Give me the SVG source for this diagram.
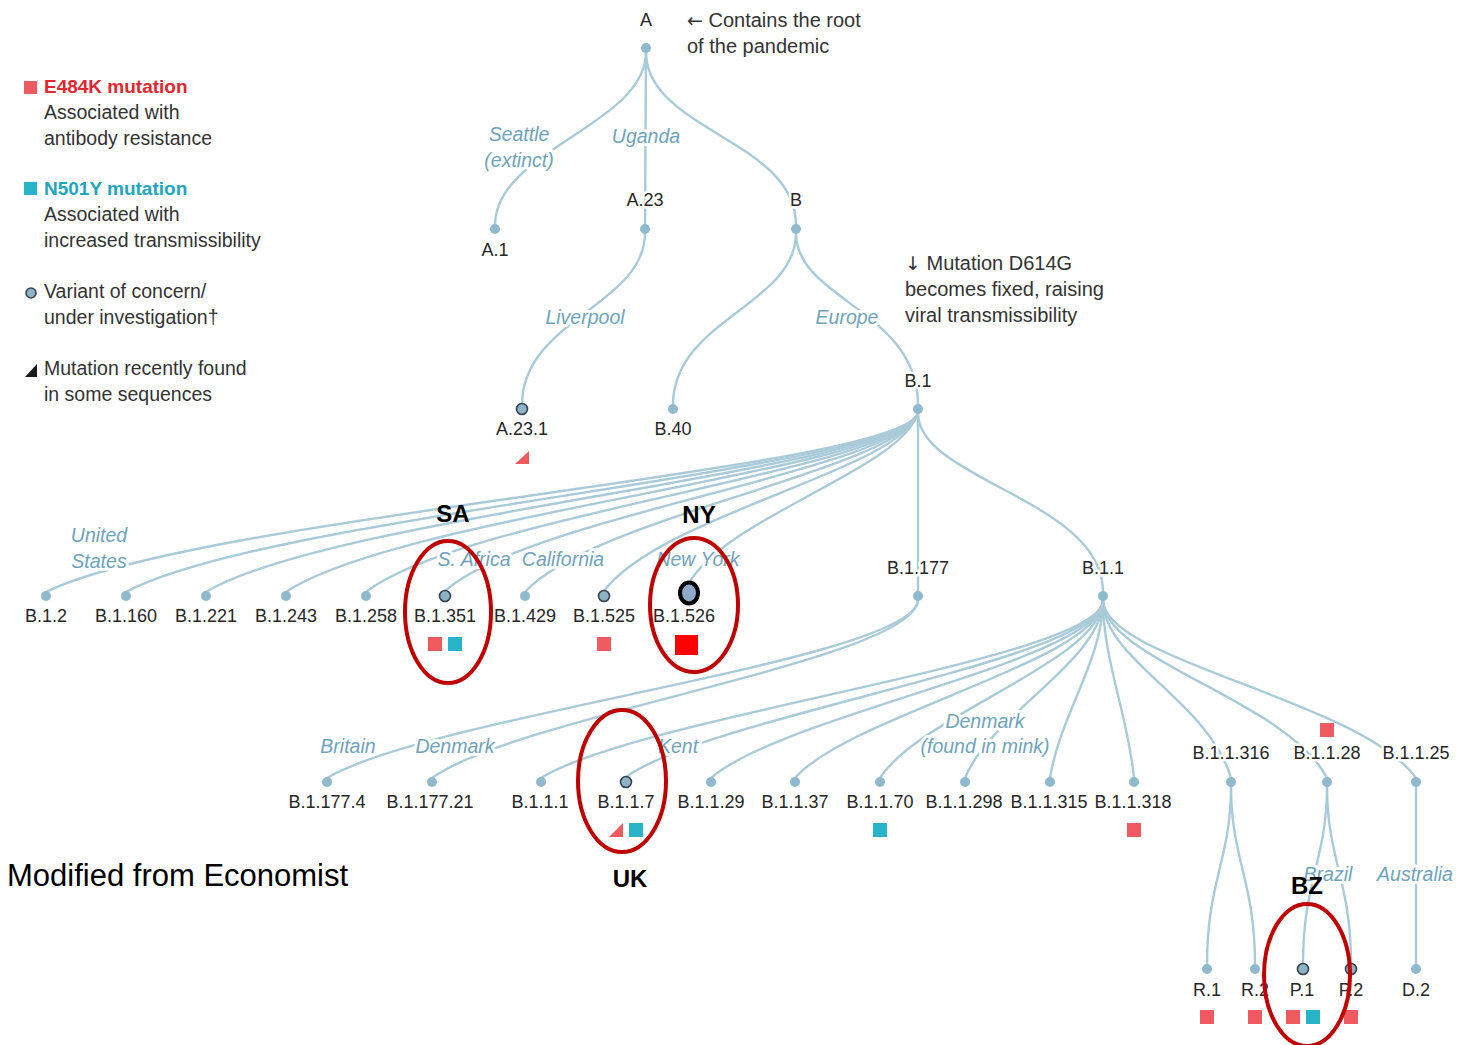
<svg xmlns="http://www.w3.org/2000/svg" width="1458" height="1045" viewBox="0 0 1458 1045">
<style>
.ln{fill:none;stroke:#a9cad9;stroke-width:2.4}
.dot{fill:#8fb9cd}
.voc{fill:#8fb2c6;stroke:#34434d;stroke-width:1.6}
.lbl{font-family:"Liberation Sans",Arial,sans-serif;font-size:18px;fill:#262626;text-anchor:middle;paint-order:stroke;stroke:#fff;stroke-width:5;stroke-linejoin:round}
.geo{font-family:"Liberation Sans",Arial,sans-serif;font-size:19.5px;font-style:italic;fill:#6fa3ba;text-anchor:middle;paint-order:stroke;stroke:#fff;stroke-width:6;stroke-linejoin:round}
.note{font-family:"Liberation Sans",Arial,sans-serif;font-size:19.5px;fill:#333}
.arr{font-family:"DejaVu Sans",sans-serif;font-size:19px}
.red{fill:#ee5a60}
.cyan{fill:#27b4c8}
.ring{fill:none;stroke:#c00000;stroke-width:4}
.tag{font-family:"Liberation Sans",Arial,sans-serif;font-size:24px;font-weight:bold;fill:#000;text-anchor:middle}
</style>
<rect width="1458" height="1045" fill="#fff"/>

<g id="legend">
<rect class="red" x="24" y="81" width="13" height="13"/>
<text class="note" x="44" y="93" style="fill:#e3262f;font-weight:bold;font-size:19px">E484K mutation</text>
<text class="note" x="44" y="119">Associated with</text>
<text class="note" x="44" y="145">antibody resistance</text>
<rect class="cyan" x="24" y="182" width="13" height="13"/>
<text class="note" x="44" y="195" style="fill:#23a5bd;font-weight:bold;font-size:19px">N501Y mutation</text>
<text class="note" x="44" y="221">Associated with</text>
<text class="note" x="44" y="247">increased transmissibility</text>
<circle class="voc" cx="31" cy="293" r="5"/>
<text class="note" x="44" y="298">Variant of concern/</text>
<text class="note" x="44" y="324">under investigation†</text>
<polygon points="25,377 37,377 37,364" fill="#1a1a1a"/>
<text class="note" x="44" y="375">Mutation recently found</text>
<text class="note" x="44" y="401">in some sequences</text>
</g>

<g id="connectors">
<path class="ln" d="M646,52 C646,125 495,150 495,225"/>
<path class="ln" d="M646,52 L645,225"/>
<path class="ln" d="M646,52 C646,130 796,140 796,225"/>
<path class="ln" d="M645,233 C645,305 522,320 522,405"/>
<path class="ln" d="M796,233 C796,305 673,320 673,405"/>
<path class="ln" d="M796,233 C796,300 918,310 918,405"/>
<path class="ln" d="M918,413 C900,470 203,515 46,592"/>
<path class="ln" d="M918,413 C900,470 269,515 126,592"/>
<path class="ln" d="M918,413 C900,470 334,515 206,592"/>
<path class="ln" d="M918,413 C900,470 400,515 286,592"/>
<path class="ln" d="M918,413 C900,470 465,515 366,592"/>
<path class="ln" d="M918,413 C900,470 530,515 445,591"/>
<path class="ln" d="M918,413 C900,470 596,515 525,592"/>
<path class="ln" d="M918,413 C900,470 661,515 604,591"/>
<path class="ln" d="M918,413 C900,470 730,515 689,583"/>
<path class="ln" d="M918,413 L918,592"/>
<path class="ln" d="M918,413 C918,480 1103,500 1103,592"/>
<path class="ln" d="M918,600 C915,660 433,715 327,778"/>
<path class="ln" d="M918,600 C915,660 519,715 432,778"/>
<path class="ln" d="M1103,600 C1103,660 642,715 541,778"/>
<path class="ln" d="M1103,600 C1103,660 712,715 626,777"/>
<path class="ln" d="M1103,600 C1103,660 782,715 711,778"/>
<path class="ln" d="M1103,600 C1103,660 850,715 795,778"/>
<path class="ln" d="M1103,600 C1103,660 920,715 880,778"/>
<path class="ln" d="M1103,600 C1103,660 990,715 965,778"/>
<path class="ln" d="M1103,600 C1103,660 1060,715 1050,778"/>
<path class="ln" d="M1103,600 C1103,660 1128,715 1134,778"/>
<path class="ln" d="M1103,600 C1103,660 1208,700 1231,778"/>
<path class="ln" d="M1103,600 C1103,660 1287,700 1327,778"/>
<path class="ln" d="M1103,600 C1103,660 1360,700 1416,778"/>
<path class="ln" d="M1231,786 C1231,860 1207,880 1207,965"/>
<path class="ln" d="M1231,786 C1231,860 1255,880 1255,965"/>
<path class="ln" d="M1327,786 C1327,860 1303,880 1303,964"/>
<path class="ln" d="M1327,786 C1327,860 1351,880 1351,964"/>
<path class="ln" d="M1416,786 L1416,965"/>
</g>

<g id="geo-labels">
<text class="geo" x="519" y="141">Seattle</text>
<text class="geo" x="519" y="167">(extinct)</text>
<text class="geo" x="646" y="143">Uganda</text>
<text class="geo" x="585" y="324">Liverpool</text>
<text class="geo" x="847" y="324">Europe</text>
<text class="geo" x="99" y="542">United</text>
<text class="geo" x="99" y="568">States</text>
<text class="geo" x="474" y="566">S. Africa</text>
<text class="geo" x="563" y="566">California</text>
<text class="geo" x="698" y="566">New York</text>
<text class="geo" x="348" y="753">Britain</text>
<text class="geo" x="455" y="753">Denmark</text>
<text class="geo" x="678" y="753">Kent</text>
<text class="geo" x="985" y="728">Denmark</text>
<text class="geo" x="985" y="753">(found in mink)</text>
<text class="geo" x="1328" y="881">Brazil</text>
<text class="geo" x="1415" y="881">Australia</text>
</g>

<g id="annotations">
<text class="note" x="687" y="27" style="font-size:20px"><tspan class="arr">←</tspan> Contains the root</text>
<text class="note" x="687" y="53" style="font-size:20px">of the pandemic</text>
<text class="note" x="905" y="270" style="font-size:20px"><tspan class="arr">↓</tspan> Mutation D614G</text>
<text class="note" x="905" y="296" style="font-size:20px">becomes fixed, raising</text>
<text class="note" x="905" y="322" style="font-size:20px">viral transmissibility</text>
<text x="7" y="886" style="font-family:'Liberation Sans',Arial,sans-serif;font-size:31px;fill:#000">Modified from Economist</text>
</g>

<g id="node-A"><circle class="dot" cx="646" cy="48" r="5"/><text class="lbl" x="646" y="26">A</text></g>
<g id="node-A.1"><circle class="dot" cx="495" cy="229" r="5"/><text class="lbl" x="495" y="256">A.1</text></g>
<g id="node-A.23"><circle class="dot" cx="645" cy="229" r="5"/><text class="lbl" x="645" y="206">A.23</text></g>
<g id="node-B"><circle class="dot" cx="796" cy="229" r="5"/><text class="lbl" x="796" y="206">B</text></g>
<g id="node-A.23.1"><circle class="voc" cx="522" cy="409" r="5.5"/><text class="lbl" x="522" y="435">A.23.1</text><polygon class="red" points="515,464 529,464 529,451"/></g>
<g id="node-B.40"><circle class="dot" cx="673" cy="409" r="5"/><text class="lbl" x="673" y="435">B.40</text></g>
<g id="node-B.1"><circle class="dot" cx="918" cy="409" r="5"/><text class="lbl" x="918" y="387">B.1</text></g>

<g id="node-B.1.2"><circle class="dot" cx="46" cy="596" r="5"/><text class="lbl" x="46" y="622">B.1.2</text></g>
<g id="node-B.1.160"><circle class="dot" cx="126" cy="596" r="5"/><text class="lbl" x="126" y="622">B.1.160</text></g>
<g id="node-B.1.221"><circle class="dot" cx="206" cy="596" r="5"/><text class="lbl" x="206" y="622">B.1.221</text></g>
<g id="node-B.1.243"><circle class="dot" cx="286" cy="596" r="5"/><text class="lbl" x="286" y="622">B.1.243</text></g>
<g id="node-B.1.258"><circle class="dot" cx="366" cy="596" r="5"/><text class="lbl" x="366" y="622">B.1.258</text></g>
<g id="node-B.1.351"><circle class="voc" cx="445" cy="596" r="5.5"/><text class="lbl" x="445" y="622">B.1.351</text><rect class="red" x="428" y="637" width="14" height="14"/><rect class="cyan" x="448" y="637" width="14" height="14"/></g>
<g id="node-B.1.429"><circle class="dot" cx="525" cy="596" r="5"/><text class="lbl" x="525" y="622">B.1.429</text></g>
<g id="node-B.1.525"><circle class="voc" cx="604" cy="596" r="5.5"/><text class="lbl" x="604" y="622">B.1.525</text><rect class="red" x="597" y="637" width="14" height="14"/></g>
<g id="node-B.1.526"><text class="lbl" x="684" y="622">B.1.526</text><ellipse cx="689" cy="593" rx="9" ry="10.5" fill="#8fa9cc" stroke="#000" stroke-width="4"/><rect x="675" y="635" width="23" height="20" fill="#ff0000"/></g>
<g id="node-B.1.177"><circle class="dot" cx="918" cy="596" r="5"/><text class="lbl" x="918" y="574">B.1.177</text></g>
<g id="node-B.1.1"><circle class="dot" cx="1103" cy="596" r="5"/><text class="lbl" x="1103" y="574">B.1.1</text></g>

<g id="node-B.1.177.4"><circle class="dot" cx="327" cy="782" r="5"/><text class="lbl" x="327" y="808">B.1.177.4</text></g>
<g id="node-B.1.177.21"><circle class="dot" cx="432" cy="782" r="5"/><text class="lbl" x="430" y="808">B.1.177.21</text></g>
<g id="node-B.1.1.1"><circle class="dot" cx="541" cy="782" r="5"/><text class="lbl" x="540" y="808">B.1.1.1</text></g>
<g id="node-B.1.1.7"><circle class="voc" cx="626" cy="782" r="5.5"/><text class="lbl" x="626" y="808">B.1.1.7</text><polygon class="red" points="609,837 623,837 623,823"/><rect class="cyan" x="629" y="823" width="14" height="14"/></g>
<g id="node-B.1.1.29"><circle class="dot" cx="711" cy="782" r="5"/><text class="lbl" x="711" y="808">B.1.1.29</text></g>
<g id="node-B.1.1.37"><circle class="dot" cx="795" cy="782" r="5"/><text class="lbl" x="795" y="808">B.1.1.37</text></g>
<g id="node-B.1.1.70"><circle class="dot" cx="880" cy="782" r="5"/><text class="lbl" x="880" y="808">B.1.1.70</text><rect class="cyan" x="873" y="823" width="14" height="14"/></g>
<g id="node-B.1.1.298"><circle class="dot" cx="965" cy="782" r="5"/><text class="lbl" x="964" y="808">B.1.1.298</text></g>
<g id="node-B.1.1.315"><circle class="dot" cx="1050" cy="782" r="5"/><text class="lbl" x="1049" y="808">B.1.1.315</text></g>
<g id="node-B.1.1.318"><circle class="dot" cx="1134" cy="782" r="5"/><text class="lbl" x="1133" y="808">B.1.1.318</text><rect class="red" x="1127" y="823" width="14" height="14"/></g>
<g id="node-B.1.1.316"><circle class="dot" cx="1231" cy="782" r="5"/><text class="lbl" x="1231" y="759">B.1.1.316</text></g>
<g id="node-B.1.1.28"><circle class="dot" cx="1327" cy="782" r="5"/><text class="lbl" x="1327" y="759">B.1.1.28</text><rect class="red" x="1320" y="723" width="14" height="14"/></g>
<g id="node-B.1.1.25"><circle class="dot" cx="1416" cy="782" r="5"/><text class="lbl" x="1416" y="759">B.1.1.25</text></g>

<g id="node-R.1"><circle class="dot" cx="1207" cy="969" r="5"/><text class="lbl" x="1207" y="996">R.1</text><rect class="red" x="1200" y="1010" width="14" height="14"/></g>
<g id="node-R.2"><circle class="dot" cx="1255" cy="969" r="5"/><text class="lbl" x="1255" y="996">R.2</text><rect class="red" x="1248" y="1010" width="14" height="14"/></g>
<g id="node-P.1"><circle class="voc" cx="1303" cy="969" r="5.5"/><text class="lbl" x="1302" y="996">P.1</text><rect class="red" x="1286" y="1010" width="14" height="14"/><rect class="cyan" x="1306" y="1010" width="14" height="14"/></g>
<g id="node-P.2"><circle class="voc" cx="1351" cy="969" r="5.5"/><text class="lbl" x="1351" y="996">P.2</text><rect class="red" x="1344" y="1010" width="14" height="14"/></g>
<g id="node-D.2"><circle class="dot" cx="1416" cy="969" r="5"/><text class="lbl" x="1416" y="996">D.2</text></g>

<g id="highlights">
<ellipse class="ring" cx="448" cy="612" rx="43" ry="71"/>
<text class="tag" x="453" y="522">SA</text>
<ellipse class="ring" cx="694" cy="605" rx="44" ry="67"/>
<text class="tag" x="699" y="523">NY</text>
<ellipse class="ring" cx="622" cy="781" rx="44" ry="71"/>
<text class="tag" x="630" y="887">UK</text>
<ellipse class="ring" cx="1307" cy="975" rx="43" ry="71"/>
<text class="tag" x="1307" y="894">BZ</text>
</g>
</svg>
